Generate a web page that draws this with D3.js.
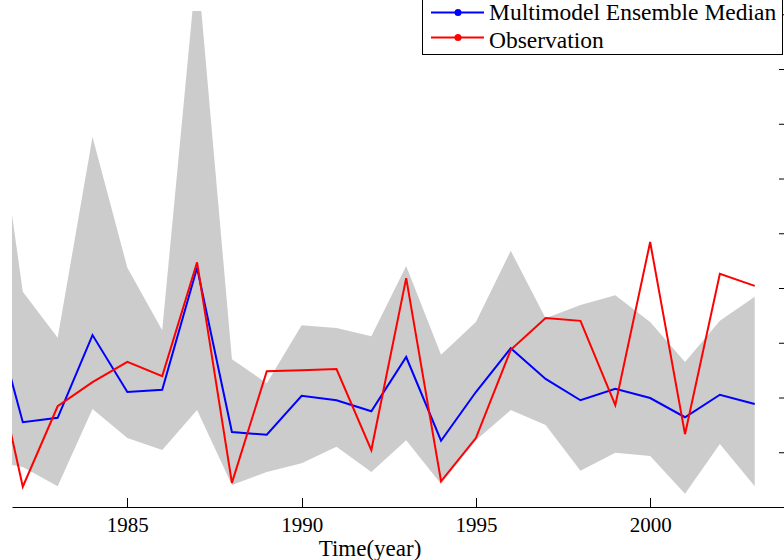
<!DOCTYPE html>
<meta charset="utf-8">
<script src="https://d3js.org/d3.v7.min.js"></script>
<style>
  body { margin: 0; background: #fff; }
  text { font-family: "Liberation Serif", "Times New Roman", serif; }
</style>
<div id="div_chart"></div>

<script>

// years (1981 is only partly visible at the left edge)
var years = [1981,1982,1983,1984,1985,1986,1987,1988,1989,1990,1991,1992,
             1993,1994,1995,1996,1997,1998,1999,2000,2001,2002,2003];

var medianVals = [3.91,1.55,1.63,3.14,2.10,2.14,4.37,1.37,1.32,2.03,1.95,1.75,
                  2.74,1.21,2.10,2.90,2.34,1.95,2.16,1.99,1.64,2.05,1.88];

var obsVals = [3.25,0.37,1.84,2.28,2.65,2.39,4.47,0.44,2.48,2.50,2.52,1.04,
               4.18,0.47,1.26,2.87,3.45,3.40,1.86,4.84,1.33,4.26,4.04];

var rangeMax = [8.47,3.93,3.09,6.76,4.37,3.23,9.95,2.70,2.26,3.32,3.27,3.12,
                4.40,2.78,3.38,4.68,3.45,3.69,3.87,3.38,2.65,3.40,3.84];

var rangeMin = [0.85,0.73,0.38,1.79,1.26,1.04,1.77,0.40,0.64,0.80,1.10,0.64,
                1.22,0.42,1.22,1.77,1.50,0.66,0.99,0.93,0.24,1.15,0.38];

var xTicks = [1985, 1990, 1995, 2000];
var yTicks = [0,1,2,3,4,5,6,7,8,9];
var legendNames = ["Multimodel Ensemble Median", "Observation"];
var legendColors = ["#0000ff", "#ff0000"];

var width = 784, height = 560;
var plotLeft = 12, plotRight = 784, plotTop = 11, plotBottom = 507;

var svg = d3.select("#div_chart")
  .append("svg")
    .attr("width", width)
    .attr("height", height);

var x = d3.scaleLinear()
  .domain([1981.69, 2003.84])
  .range([plotLeft, plotRight]);

var y = d3.scaleLinear()
  .domain([0, 9.06])
  .range([plotBottom, plotTop]);

// clip to the axes box
svg.append("clipPath")
    .attr("id", "plotclip")
  .append("rect")
    .attr("x", plotLeft).attr("y", plotTop)
    .attr("width", plotRight - plotLeft).attr("height", plotBottom - plotTop);

var plot = svg.append("g").attr("clip-path", "url(#plotclip)");

var data = years.map(function(yr, i) {
  return { year: yr, med: medianVals[i], obs: obsVals[i], lo: rangeMin[i], hi: rangeMax[i] };
});

// ensemble range band
plot.append("path")
  .datum(data)
  .attr("fill", "#cccccc")
  .attr("d", d3.area()
    .x(function(d){ return x(d.year) })
    .y0(function(d){ return y(d.lo) })
    .y1(function(d){ return y(d.hi) }));

// median + observation lines
plot.append("path")
  .datum(data)
  .attr("fill", "none")
  .attr("stroke", legendColors[0])
  .attr("stroke-width", 2)
  .attr("d", d3.line()
    .x(function(d){ return x(d.year) })
    .y(function(d){ return y(d.med) }));

plot.append("path")
  .datum(data)
  .attr("fill", "none")
  .attr("stroke", legendColors[1])
  .attr("stroke-width", 2)
  .attr("d", d3.line()
    .x(function(d){ return x(d.year) })
    .y(function(d){ return y(d.obs) }));

// x axis
var xAxis = svg.append("g")
  .attr("transform", "translate(0," + plotBottom + ")")
  .call(d3.axisBottom(x).tickValues(xTicks).tickFormat(d3.format("d"))
    .tickSize(0).tickPadding(10));
xAxis.select(".domain").attr("stroke", "#000");
xAxis.selectAll(".tick text")
  .style("font-size", "21px")
  .style("font-family", "Liberation Serif, serif")
  .attr("fill", "#000");

// inward x ticks
svg.append("g")
  .selectAll("line")
  .data(xTicks)
  .enter()
  .append("line")
    .attr("x1", function(d){ return Math.round(x(d)) + 0.5 })
    .attr("x2", function(d){ return Math.round(x(d)) + 0.5 })
    .attr("y1", plotBottom)
    .attr("y2", plotBottom - 9)
    .attr("stroke", "#000")
    .attr("stroke-width", 1);

// right side ticks only (labels fall outside the picture)
var yAxis = svg.append("g")
  .attr("transform", "translate(" + plotRight + ",0)")
  .call(d3.axisRight(y).tickValues(yTicks).tickFormat("")
    .tickSizeInner(-5).tickSizeOuter(0));
yAxis.select(".domain").remove();
yAxis.selectAll(".tick line").attr("stroke", "#000");

// axis title
svg.append("text")
  .attr("x", 370)
  .attr("y", 556)
  .attr("text-anchor", "middle")
  .style("font-size", "23px")
  .attr("fill", "#000")
  .text("Time(year)");

// legend box (top is cut off by the picture)
var legend = svg.append("g");
legend.append("rect")
  .attr("x", 422.5).attr("y", -40)
  .attr("width", 360).attr("height", 94.5)
  .attr("fill", "#fff")
  .attr("stroke", "#000")
  .attr("stroke-width", 1);

var rows = legend.selectAll("g.row")
  .data(legendNames)
  .enter()
  .append("g")
    .attr("transform", function(d, i){ return "translate(0," + (12.5 + i * 25) + ")" });

rows.append("line")
  .attr("x1", 431).attr("x2", 484)
  .attr("y1", 0).attr("y2", 0)
  .attr("stroke", function(d, i){ return legendColors[i] })
  .attr("stroke-width", 2);

rows.append("circle")
  .attr("cx", 458).attr("cy", 0).attr("r", 3.5)
  .attr("fill", function(d, i){ return legendColors[i] });

rows.append("text")
  .attr("x", 489)
  .attr("y", function(d, i){ return i == 0 ? 7 : 10 })
  .style("font-size", "23.5px")
  .attr("fill", "#000")
  .text(function(d){ return d });

</script>
